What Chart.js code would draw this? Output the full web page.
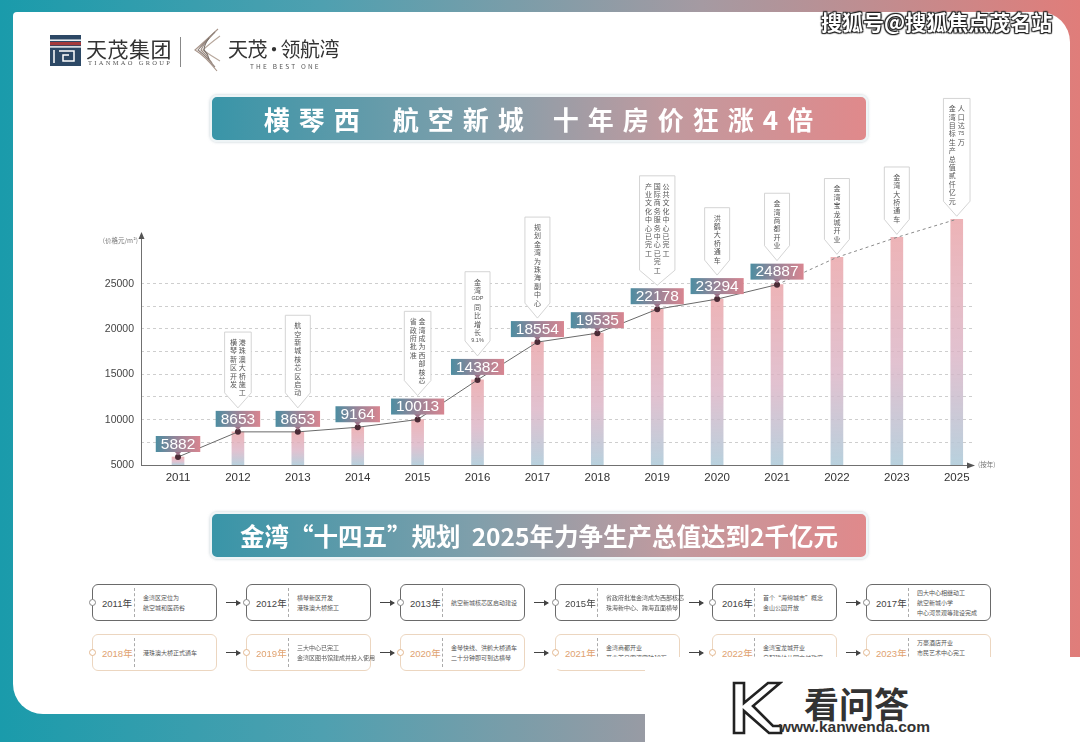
<!DOCTYPE html>
<html><head><meta charset="utf-8">
<script src="https://cdn.jsdelivr.net/npm/chart.js@4"></script>
<style>
html,body{margin:0;padding:0;}
body{width:1080px;height:742px;position:relative;overflow:hidden;background:linear-gradient(90deg,#1a9bab 0%,#4fa0b0 30%,#a59aa2 65%,#e07d7a 100%);font-family:"Noto Sans CJK SC","Noto Sans",sans-serif;}
#card{position:absolute;left:13px;top:12px;width:1057px;height:702px;background:#fff;border-radius:4px 30px 10px 30px;z-index:0;}
#c{position:absolute;left:0;top:0;z-index:2;}
.abs{position:absolute;z-index:3;}
.banner{position:absolute;z-index:3;left:210px;width:654px;height:43px;border:2px solid #eef4f6;border-radius:7px;box-shadow:0 0 3px rgba(150,170,180,0.6);background:linear-gradient(90deg,#3995a8 0%,#7f9fab 40%,#c19a9f 70%,#e0898b 100%);color:#fff;font-weight:bold;display:flex;align-items:center;justify-content:center;white-space:nowrap;}
.tl{position:absolute;z-index:3;width:125px;height:37px;border:1px solid #6a6a6a;border-radius:6px;box-sizing:border-box;background:#fff;}
.tl.r2{border-color:#ecd6c0;}
.tl .yr{position:absolute;left:9px;top:0;height:100%;display:flex;align-items:center;font-size:9.5px;color:#444;font-family:"Liberation Sans","Noto Sans CJK SC",sans-serif;}
.tl.r2 .yr{color:#e0a270;}
.tl .dv{position:absolute;left:41px;top:3px;bottom:3px;border-left:1px dashed #aaa;}
.tl .tx{position:absolute;left:50px;right:2px;top:0;height:100%;display:flex;flex-direction:column;justify-content:center;font-size:6px;line-height:10px;color:#555;white-space:nowrap;}
.tl .dot{position:absolute;left:-4px;top:50%;margin-top:-3.5px;width:5px;height:5px;border:1px solid #888;border-radius:50%;background:#fff;}
.tl.r2 .dot{border-color:#e3b890;}
.arr{position:absolute;z-index:3;width:14px;height:1px;background:#444;}
.arr:after{content:"";position:absolute;right:-1px;top:-2.5px;border-left:5px solid #444;border-top:3px solid transparent;border-bottom:3px solid transparent;}
</style></head>
<body>
<div id="card"></div>

<!-- header logos -->
<svg class="abs" style="left:50px;top:35px" width="31" height="31" viewBox="0 0 31 31">
 <rect width="31" height="31" fill="#2c4865"/>
 <rect x="0" y="4.5" width="31" height="1.4" fill="#fff"/>
 <rect x="0" y="7" width="31" height="3.2" fill="#a4393b"/>
 <rect x="0" y="11.2" width="31" height="1.4" fill="#fff"/>
 <path d="M4 15 V28 M9 16 H24 V26 H13 V20 H19" stroke="#fff" stroke-width="1.5" fill="none"/>
</svg>
<div class="abs" style="left:86px;top:33px;font-size:21px;color:#333;letter-spacing:0.5px;">天茂集团</div>
<div class="abs" style="left:88px;top:59px;font-size:6.5px;color:#555;letter-spacing:2.3px;font-family:'Liberation Serif',serif;">TIANMAO GROUP</div>
<div class="abs" style="left:180px;top:37px;width:1px;height:30px;background:#888;"></div>
<svg class="abs" style="left:191px;top:27px" width="32" height="46" viewBox="0 0 32 46">
 <g fill="none" stroke-width="1.1">
  <path d="M27 2 Q12 16 4 23 Q14 29 26 44" stroke="#a8958a"/>
  <path d="M24 5 Q12 17 7 23 Q15 29 24 40" stroke="#8d7f78"/>
  <path d="M21 8 Q12 18 10 23 Q16 28 21 36" stroke="#9c8b80"/>
  <path d="M29 9 Q17 18 12 23 Q19 28 29 34" stroke="#b7a79c"/>
  <path d="M18 11 Q13 18 13 23 Q17 27 18 32" stroke="#7a706a"/>
 </g>
</svg>
<div class="abs" style="left:228px;top:34px;font-size:20px;color:#333;letter-spacing:-0.5px;">天茂<span style="margin:0 -3px">·</span>领航湾</div>
<div class="abs" style="left:250px;top:61px;font-size:6.5px;color:#555;letter-spacing:2.2px;">THE BEST ONE</div>

<!-- watermark top right -->
<div class="abs" style="left:821px;top:6px;font-size:21px;font-weight:bold;color:#fff;text-shadow:0 0 2px #222,1px 1px 1px #222,-1px -1px 1px #222,1px -1px 1px #222,-1px 1px 1px #222;">搜狐号@搜狐焦点茂名站</div>

<!-- banners -->
<div class="banner" style="top:95px;font-size:26px;letter-spacing:9px;"><span style="display:inline-block;width:8px"></span><span>横琴西</span><span style="display:inline-block;width:24px"></span><span>航空新城</span><span style="display:inline-block;width:20px"></span><span>十年房价狂涨4倍</span></div>
<div class="banner" style="top:512px;font-size:24.5px;">金湾“十四五”规划&nbsp;&nbsp;2025年力争生产总值达到2千亿元</div>

<div id="timeline"></div>

<canvas id="c" width="1080" height="742"></canvas>

<!-- cut + bottom-right watermark -->
<div class="abs" style="left:548px;top:657px;width:532px;height:12px;background:#fff;z-index:4;"></div>
<div class="abs" style="left:645px;top:668px;width:435px;height:74px;background:#fff;z-index:4;"></div>
<svg class="abs" style="left:731px;top:680px;z-index:5" width="52" height="57" viewBox="0 0 52 57">
 <path d="M3 3 L13 3 L13 23 L37 3 L49 3 L22 26 L42 46 L50 46 L50 53 L38 53 L13 31 L13 53 L3 53 Z" fill="#fff" stroke="#222" stroke-width="2.6" stroke-linejoin="miter"/>
</svg>
<div class="abs" style="left:804px;top:677px;font-size:35px;font-weight:bold;color:#333;z-index:5;">看问答</div>
<div class="abs" style="left:779px;top:718px;font-size:15.5px;font-weight:bold;color:#333;z-index:5;font-family:'Liberation Sans',sans-serif;">www.kanwenda.com</div>

<script>
// ===== DATA =====
const years = ['2011','2012','2013','2014','2015','2016','2017','2018','2019','2020','2021','2022','2023','2025'];
const knownPrices = [5882, 8653, 8653, 9164, 10013, 14382, 18554, 19535, 22178, 23294, 24887];
const projectedPrices = [27900, 30100, 32100];
const yAxisMin = 5000, yAxisMax = 34000, yGridStep = 2500, yLabelStep = 5000, yLabelMax = 25000;
const yAxisTitle = '(价格元/m²)';
const xAxisTitle = '(按年)';
const calloutYears = ['2012','2013','2015','2016','2017','2019','2020','2021','2022','2023','2025'];
const calloutTexts = [
  ['横琴新区开发','港珠澳大桥施工'],
  ['航空新城核芯区启动'],
  ['省政府批准','金湾成为西部核芯'],
  ['金湾GDP同比增长9.1%'],
  ['规划金湾为珠海副中心'],
  ['产业文化中心已完工','国际商务服务中心已完工','公共文化中心已完工'],
  ['洪鹤大桥通车'],
  ['金湾商都开业'],
  ['金湾宝龙城开业'],
  ['金湾大桥通车'],
  ['金湾目标生产总值贰仟亿元','人口达75万']
];
const timelineYears1 = ['2011年','2012年','2013年','2015年','2016年','2017年'];
const timelineTexts1 = [
  ['金湾区定位为','航空城和医药谷'],
  ['横琴新区开发','港珠澳大桥施工'],
  ['航空新城核芯区启动建设'],
  ['省政府批准金湾成为西部核芯','珠海新中心、跨海直面横琴'],
  ['首个“海绵城市”概念','金山公园开放'],
  ['四大中心相继动工','航空新城小学','中心河景观等建设完成']
];
const timelineYears2 = ['2018年','2019年','2020年','2021年','2022年','2023年'];
const timelineTexts2 = [
  ['港珠澳大桥正式通车'],
  ['三大中心已完工','金湾区图书馆建成并投入使用'],
  ['金琴快线、洪鹤大桥通车','二十分钟即可到达横琴'],
  ['金湾商都开业','开业首日客流突破10万'],
  ['金湾宝龙城开业','自配建幼儿园交付政府'],
  ['万豪酒店开业','市民艺术中心完工','金湾大桥通车']
];

// ===== TIMELINE (DOM) =====
(function(){
  const host = document.getElementById('timeline');
  const lefts = [92,246,400,555,712,866];
  function row(ys, ts, top, cls){
    ys.forEach((yr,i)=>{
      const b = document.createElement('div');
      b.className = 'tl' + (cls ? ' '+cls : '');
      b.style.left = lefts[i]+'px'; b.style.top = top+'px';
      b.innerHTML = '<span class="dot"></span><div class="yr">'+yr+'</div><div class="dv"></div><div class="tx">'+ts[i].map(t=>'<div>'+t+'</div>').join('')+'</div>';
      host.appendChild(b);
      if(i < ys.length-1){
        const a = document.createElement('div'); a.className='arr';
        a.style.left = (lefts[i]+125+9)+'px'; a.style.top = (top+18)+'px';
        host.appendChild(a);
      }
    });
  }
  row(timelineYears1, timelineTexts1, 584, '');
  row(timelineYears2, timelineTexts2, 634, 'r2');
})();

// ===== CHART =====
const allPrices = knownPrices.concat(projectedPrices);
const barData = allPrices.map((v,i)=>({x:i, y:[yAxisMin, v]}));
const lineData = knownPrices.map((v,i)=>({x:i, y:v}));
const k0 = knownPrices.length - 1;
const dashData = [{x:k0, y:knownPrices[k0]}].concat(projectedPrices.map((v,j)=>({x:k0+1+j, y:v})));

function tokens(s){ return s.match(/[A-Za-z0-9.%]+|./g); }

const deco = {
  id:'deco',
  beforeDatasetsDraw(chart){
    const {ctx, chartArea:ca, scales:{x,y}} = chart;
    const y0 = Math.round(y.getPixelForValue(yAxisMin));
    const yTop = y.getPixelForValue(30700);
    ctx.save();
    ctx.strokeStyle = '#707070'; ctx.fillStyle = '#555'; ctx.lineWidth = 1;
    ctx.beginPath();
    ctx.moveTo(ca.left+0.5, y0); ctx.lineTo(ca.left+0.5, yTop+5);
    ctx.moveTo(ca.left, y0+0.5); ctx.lineTo(ca.right-6, y0+0.5);
    ctx.stroke();
    ctx.beginPath(); ctx.moveTo(ca.left+0.5, yTop); ctx.lineTo(ca.left-2.5, yTop+7); ctx.lineTo(ca.left+3.5, yTop+7); ctx.closePath(); ctx.fill();
    ctx.beginPath(); ctx.moveTo(ca.right, y0+0.5); ctx.lineTo(ca.right-8, y0-2.5); ctx.lineTo(ca.right-8, y0+3.5); ctx.closePath(); ctx.fill();
    ctx.font = '6.5px "Noto Sans CJK SC"'; ctx.fillStyle = '#777'; ctx.textBaseline = 'middle';
    ctx.textAlign = 'right'; ctx.fillText(yAxisTitle, ca.left-3, yTop+9);
    ctx.textAlign = 'left'; ctx.fillText(xAxisTitle, ca.right+3, y0);
    ctx.restore();
  },
  afterDatasetsDraw(chart){
    const {ctx, scales:{x,y}} = chart;
    ctx.save();
    const boxH = 16, gap = 5;
    // callouts
    calloutYears.forEach((yr, n)=>{
      const i = years.indexOf(yr);
      const v = allPrices[i];
      const px = x.getPixelForValue(i), py = y.getPixelForValue(v);
      const tipY = i < knownPrices.length ? py - gap - boxH - 3 : py - 3;
      const cols = calloutTexts[n].map(tokens);
      const step = 8.4, colStep = 8.8, tipH = 15;
      const maxLen = Math.max(...cols.map(c=>c.length));
      const w = Math.max(25, cols.length*colStep + 9);
      const left = px - w/2, right = px + w/2;
      const bodyBottom = tipY - tipH;
      const top = bodyBottom - maxLen*step + 6 - 8;
      ctx.beginPath();
      ctx.moveTo(left, top); ctx.lineTo(right, top); ctx.lineTo(right, bodyBottom);
      ctx.lineTo(px, tipY); ctx.lineTo(left, bodyBottom); ctx.closePath();
      ctx.fillStyle = '#fff'; ctx.fill();
      ctx.strokeStyle = '#cfcfcf'; ctx.lineWidth = 0.9; ctx.stroke();
      ctx.fillStyle = '#555'; ctx.textAlign = 'center'; ctx.textBaseline = 'middle';
      const cx0 = px - (cols.length-1)*colStep/2;
      cols.forEach((col, j)=>{
        col.forEach((t, k)=>{
          ctx.font = (t.length > 1 ? '5.5px "Liberation Sans"' : '7px "Noto Sans CJK SC"');
          ctx.fillText(t, cx0 + j*colStep, top + 6 + k*step + step/2);
        });
      });
    });
    // value labels
    knownPrices.forEach((v, i)=>{
      const px = x.getPixelForValue(i), py = y.getPixelForValue(v);
      ctx.font = '15.5px "Liberation Sans"';
      const txt = String(v);
      const w = ctx.measureText(txt).width + 10;
      const bx = px - w/2, by = py - gap - boxH;
      ctx.beginPath(); ctx.moveTo(px-4, by+boxH-1); ctx.lineTo(px+4, by+boxH-1); ctx.lineTo(px, py-1.5); ctx.closePath();
      ctx.fillStyle = '#9b6f86'; ctx.fill();
      const g = ctx.createLinearGradient(bx, 0, bx+w, 0);
      g.addColorStop(0, '#4d8da1'); g.addColorStop(0.5, '#9b8498'); g.addColorStop(1, '#d88590');
      ctx.fillStyle = g;
      ctx.fillRect(bx, by, w, boxH);
      ctx.fillStyle = '#fff'; ctx.textAlign = 'center'; ctx.textBaseline = 'middle';
      ctx.fillText(txt, px, by + boxH/2 + 0.5);
    });
    ctx.restore();
  }
};

new Chart(document.getElementById('c'), {
  type: 'bar',
  data: {
    datasets: [
      {
        type: 'line', data: lineData, order: 0,
        borderColor: '#6a6a6a', borderWidth: 1, tension: 0,
        pointRadius: 3, pointBackgroundColor: '#4b2b36', pointBorderWidth: 0
      },
      {
        type: 'line', data: dashData, order: 1,
        borderColor: '#8a8a8a', borderWidth: 1, borderDash: [3,3], pointRadius: 0, tension: 0
      },
      {
        type: 'bar', data: barData, order: 2, barThickness: 12,
        backgroundColor(c){
          const chart = c.chart, ca = chart.chartArea;
          if (!ca || c.type !== 'data' || !chart.scales.y) return 'rgba(220,180,190,0.8)';
          const v = allPrices[c.dataIndex];
          const yT = chart.scales.y.getPixelForValue(v), yB = chart.scales.y.getPixelForValue(yAxisMin);
          const g = chart.ctx.createLinearGradient(0, yT, 0, yB);
          g.addColorStop(0, 'rgba(234,166,170,0.85)');
          g.addColorStop(0.55, 'rgba(218,178,196,0.8)');
          g.addColorStop(1, 'rgba(176,204,218,0.9)');
          return g;
        }
      }
    ]
  },
  options: {
    responsive: false, animation: false, devicePixelRatio: 1,
    layout: { padding: { left: 41, right: 105, top: 202, bottom: 252 } },
    plugins: { legend: { display: false }, tooltip: { enabled: false } },
    scales: {
      x: {
        type: 'linear', min: -0.618, max: 13.305, offset: false,
        grid: { display: false, drawTicks: false }, border: { display: false },
        afterBuildTicks(s){ s.ticks = years.map((_, i)=>({value: i})); },
        afterFit(s){ s.height = 25; },
        ticks: { autoSkip: false, maxRotation: 0, padding: 6, color: '#333', font: { size: 11.5, family: 'Liberation Sans' },
                 callback: (v)=>years[v] }
      },
      y: {
        min: yAxisMin, max: yAxisMax,
        afterBuildTicks(s){ const t = []; for (let v = yAxisMin; v <= yLabelMax; v += yGridStep) t.push({value: v}); s.ticks = t; },
        afterFit(s){ s.width = 100; },
        ticks: { autoSkip: false, padding: 7, color: '#444', font: { size: 10.5, family: 'Liberation Sans' },
                 callback: (v)=> (v % yLabelStep === 0 ? String(v) : '') },
        grid: { drawTicks: false, lineWidth: 0.8,
                color: (c)=> (c.tick && c.tick.value === yAxisMin ? 'rgba(0,0,0,0)' : '#c2c2c2') },
        border: { display: false, dash: [3,3] }
      }
    }
  },
  plugins: [deco]
});
</script>
</body></html>
